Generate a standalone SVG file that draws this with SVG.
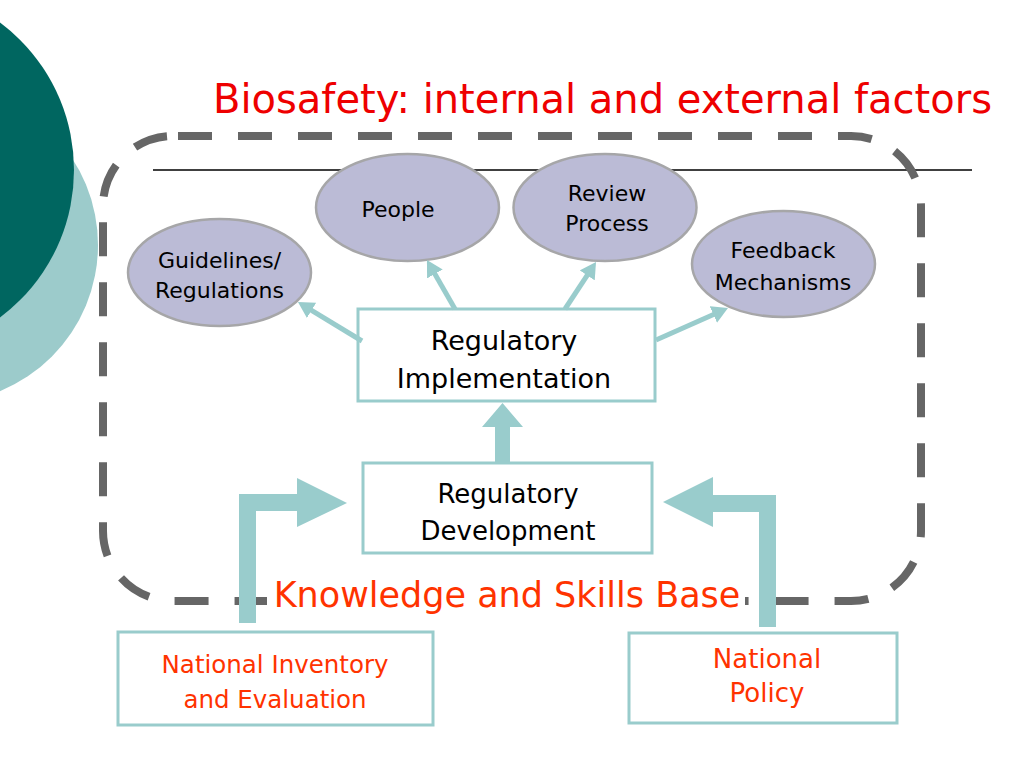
<svg xmlns="http://www.w3.org/2000/svg" width="1024" height="768" viewBox="0 0 1024 768">
<defs>
<style>
text{font-family:"DejaVu Sans","Verdana",sans-serif;text-anchor:middle}
.ell{fill:#BBBBD6;stroke:#A6A6A8;stroke-width:2.5}
.box{fill:#FFFFFF;stroke:#99CCCC;stroke-width:3}
.blk{fill:#000000}
.org{fill:#FF3300}
.thin{stroke:#99CCCC;stroke-width:5;fill:none;marker-end:url(#ah)}
.big{fill:#99CCCC}
</style>
<marker id="ah" markerUnits="userSpaceOnUse" markerWidth="18" markerHeight="18" refX="2" refY="9" orient="auto">
<path d="M0,0 L16,9 L0,18 z" fill="#99CCCC"/>
</marker>
</defs>
<rect width="1024" height="768" fill="#FFFFFF"/>
<g id="background">
<circle cx="-60" cy="245" r="158" fill="#9CCBCB"/>
<circle cx="-110" cy="170" r="184" fill="#006660"/>
</g>
<g id="title">
<text x="213" y="113" font-size="40" fill="#EE0000" style="text-anchor:start" textLength="779" lengthAdjust="spacingAndGlyphs">Biosafety: internal and external factors</text>
<line x1="153" y1="170" x2="972" y2="170" stroke="#000000" stroke-width="1.5"/>
</g>
<g id="knowledge-base">
<rect x="103" y="136" width="818" height="465" rx="70" ry="70" fill="none" stroke="#666666" stroke-width="8" stroke-dasharray="34 26" stroke-dashoffset="55"/>
<rect x="267" y="578" width="478" height="44" fill="#FFFFFF"/>
<text x="507" y="607" font-size="35" class="org">Knowledge and Skills Base</text>
</g>
<g id="guidelines">
<ellipse cx="219.5" cy="272.5" rx="91.5" ry="53.5" class="ell"/>
<text x="219.5" y="268" font-size="22" class="blk">Guidelines/</text>
<text x="219.5" y="298" font-size="22" class="blk">Regulations</text>
</g>
<g id="people">
<ellipse cx="407.5" cy="207.5" rx="91.5" ry="53.5" class="ell"/>
<text x="398" y="217" font-size="22" class="blk">People</text>
</g>
<g id="review">
<ellipse cx="605" cy="207.5" rx="91.5" ry="53.5" class="ell"/>
<text x="607" y="201" font-size="22" class="blk">Review</text>
<text x="607" y="231" font-size="22" class="blk">Process</text>
</g>
<g id="feedback">
<ellipse cx="783.5" cy="264" rx="91.5" ry="53" class="ell"/>
<text x="783" y="258" font-size="22" class="blk">Feedback</text>
<text x="783" y="290" font-size="22" class="blk">Mechanisms</text>
</g>
<g id="implementation">
<rect x="358" y="309" width="297" height="92" class="box"/>
<text x="504" y="350" font-size="27" class="blk">Regulatory</text>
<text x="504" y="388" font-size="27" class="blk">Implementation</text>
</g>
<g id="development">
<rect x="363" y="463" width="289" height="90" class="box"/>
<text x="508" y="503" font-size="26" class="blk">Regulatory</text>
<text x="508" y="540" font-size="26" class="blk">Development</text>
</g>
<g id="inventory">
<rect x="118" y="632" width="315" height="93" class="box"/>
<text x="275" y="673" font-size="24.5" class="org">National Inventory</text>
<text x="275" y="708" font-size="24.5" class="org">and Evaluation</text>
</g>
<g id="policy">
<rect x="629" y="633" width="268" height="90" class="box"/>
<text x="767" y="668" font-size="26" class="org">National</text>
<text x="767" y="702" font-size="26" class="org">Policy</text>
</g>
<g id="connectors">
<line x1="362" y1="341" x2="309.9" y2="309.3" class="thin"/>
<line x1="455" y1="309" x2="433.9" y2="272.2" class="thin"/>
<line x1="565" y1="309" x2="588.3" y2="273.7" class="thin"/>
<line x1="656" y1="340" x2="715.2" y2="313.7" class="thin"/>
<polygon class="big" points="495,463 495,427 482,427 502.5,403 523,427 510,427 510,463"/>
<polygon class="big" points="239,623 239,494 297,494 297,478 347,503 297,527 297,511 256,511 256,623"/>
<polygon class="big" points="776,627 776,495 713,495 713,477 663,502 713,527 713,512 759,512 759,627"/>
</g>
</svg>
